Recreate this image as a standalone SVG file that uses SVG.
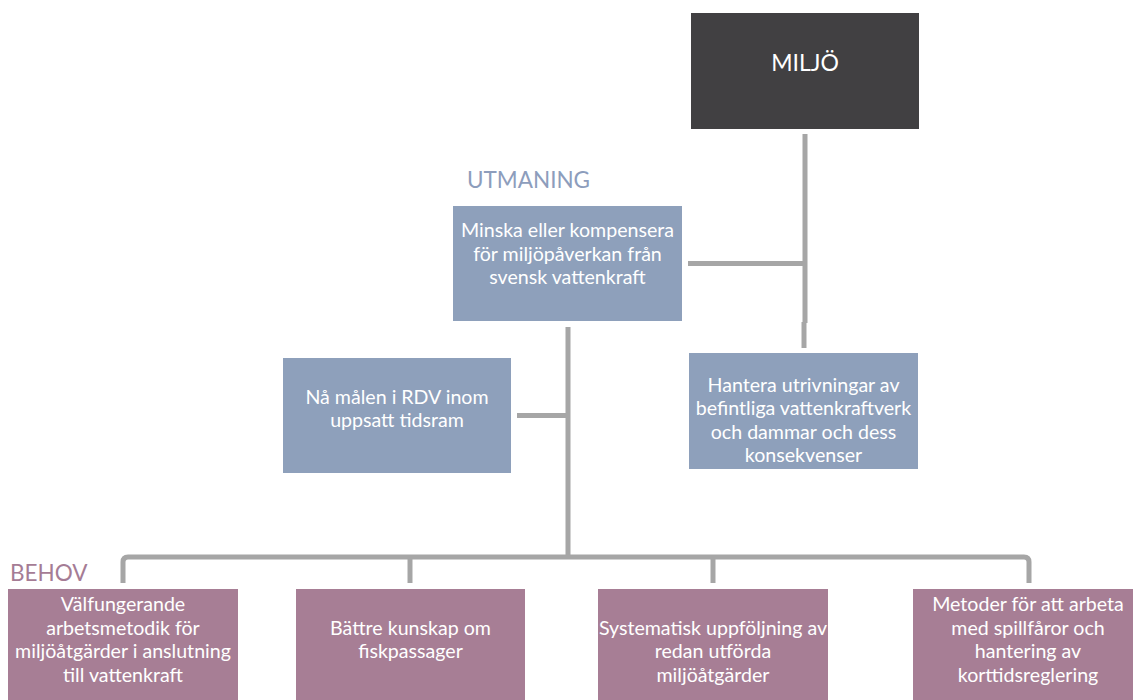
<svg xmlns="http://www.w3.org/2000/svg" width="1133" height="700" viewBox="0 0 1133 700">
<style>
.t{font-family:Lato,"Liberation Sans",sans-serif;font-size:19.6px;fill:#ffffff;text-anchor:middle}
.blue{fill:#8ea0bb}
.purple{fill:#a77e95}
.conn{stroke:#a6a6a6;stroke-width:5;fill:none}
.lbl{font-family:Lato,"Liberation Sans",sans-serif;font-size:22.5px}
</style>
<rect width="1133" height="700" fill="#ffffff"/>
<g id="connectors">
<line class="conn" x1="805" y1="134" x2="805" y2="323"/>
<line class="conn" x1="688" y1="263.5" x2="805" y2="263.5"/>
<line class="conn" x1="804" y1="322" x2="804" y2="348"/>
<line class="conn" x1="568" y1="327" x2="568" y2="557"/>
<line class="conn" x1="517" y1="415.5" x2="568" y2="415.5"/>
<path class="conn" d="M123,583 V562 Q123,557 128,557 H1024 Q1029,557 1029,562 V583"/>
<line class="conn" x1="410" y1="557" x2="410" y2="583"/>
<line class="conn" x1="713" y1="557" x2="713" y2="583"/>
</g>
<text class="lbl" x="467" y="188" fill="#8d9dbc">UTMANING</text>
<text class="lbl" x="10" y="581" fill="#a57c95">BEHOV</text>
<g id="miljo">
<rect x="691" y="13" width="228" height="116" fill="#414042"/>
<text class="t" x="805" y="71" style="font-size:23px">MILJÖ</text>
</g>
<g id="minska">
<rect class="blue" x="453" y="206" width="229" height="115"/>
<text class="t" x="567.5" y="237">Minska eller kompensera</text>
<text class="t" x="567.5" y="260.5">för miljöpåverkan från</text>
<text class="t" x="567.5" y="284">svensk vattenkraft</text>
</g>
<g id="na">
<rect class="blue" x="283" y="358" width="228" height="115"/>
<text class="t" x="397" y="403.5">Nå målen i RDV inom</text>
<text class="t" x="397" y="426.5">uppsatt tidsram</text>
</g>
<g id="hantera">
<rect class="blue" x="689" y="353" width="229" height="116"/>
<text class="t" x="803.5" y="392">Hantera utrivningar av</text>
<text class="t" x="803.5" y="415">befintliga vattenkraftverk</text>
<text class="t" x="803.5" y="438.5">och dammar och dess</text>
<text class="t" x="803.5" y="462">konsekvenser</text>
</g>
<g id="behov1">
<rect class="purple" x="8" y="589" width="230" height="116"/>
<text class="t" x="123" y="611">Välfungerande</text>
<text class="t" x="123" y="635">arbetsmetodik för</text>
<text class="t" x="123" y="658">miljöåtgärder i anslutning</text>
<text class="t" x="123" y="682">till vattenkraft</text>
</g>
<g id="behov2">
<rect class="purple" x="296" y="589" width="229" height="116"/>
<text class="t" x="410.5" y="635">Bättre kunskap om</text>
<text class="t" x="410.5" y="658">fiskpassager</text>
</g>
<g id="behov3">
<rect class="purple" x="598" y="589" width="230" height="116"/>
<text class="t" x="713" y="635">Systematisk uppföljning av</text>
<text class="t" x="713" y="658">redan utförda</text>
<text class="t" x="713" y="682">miljöåtgärder</text>
</g>
<g id="behov4">
<rect class="purple" x="913" y="589" width="230" height="116"/>
<text class="t" x="1028" y="611">Metoder för att arbeta</text>
<text class="t" x="1028" y="635">med spillfåror och</text>
<text class="t" x="1028" y="658">hantering av</text>
<text class="t" x="1028" y="682">korttidsreglering</text>
</g>
</svg>
